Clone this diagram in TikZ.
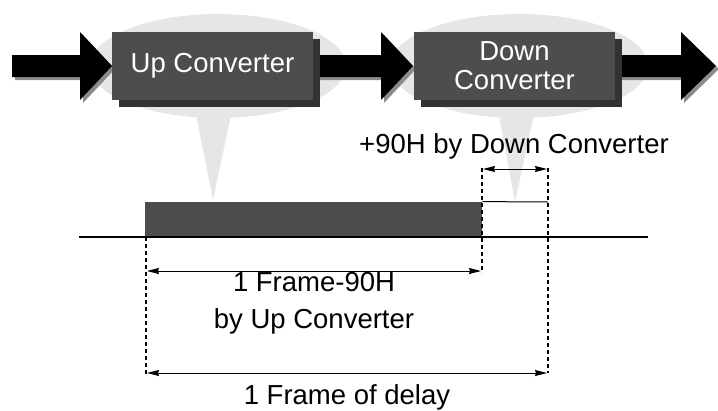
\documentclass[tikz,border=0pt]{standalone}
\usepackage{fontspec}
\setmainfont{Liberation Sans}
\usetikzlibrary{arrows.meta,shapes.geometric,shadows}

\definecolor{boxgray}{HTML}{4D4D4D}
\definecolor{boxshade}{HTML}{333333}
\definecolor{halogray}{HTML}{E6E6E6}
\definecolor{arrowshade}{HTML}{8C8C8C}

\tikzset{
  halo/.style={ellipse, fill=halogray, draw=none, inner sep=0pt},
  convbox/.style={rectangle, fill=boxgray, draw=none, text=white, align=center,
    minimum width=201pt, minimum height=68pt, inner sep=0pt,
    font=\fontsize{27.5}{29}\selectfont,
    drop shadow={shadow xshift=7pt, shadow yshift=-7pt, fill=boxshade, opacity=1}},
  label/.style={align=center, inner sep=0pt, font=\fontsize{27.5}{37}\selectfont},
  dimline/.style={line width=1pt, {Stealth[length=12pt,width=6pt,inset=1pt]}-{Stealth[length=12pt,width=6pt,inset=1pt]}},
  guide/.style={line width=1.8pt, dash pattern=on 4pt off 3pt},
}

\begin{document}
\begin{tikzpicture}[x=1pt,y=-1pt]
\useasboundingbox (0,0) rectangle (718,410);

% light halos with their pointers
\node[halo, minimum width=256pt, minimum height=104pt] (uphalo) at (218,66) {};
\node[halo, minimum width=258pt, minimum height=104pt] (downhalo) at (519,66) {};
\fill[halogray] (195,110) -- (213,200) -- (232,110) -- cycle;
\fill[halogray] (498,110) -- (515,202) -- (535,110) -- cycle;

% block arrows (shadow first, then black body)
\foreach \xa/\xb/\xt in {12/80/112, 300/381/413, 600/681/716} {
  \fill[arrowshade, shift={(3,3)}] (\xa,55) -- (\xb,55) -- (\xb,32) -- (\xt,66)
    -- (\xb,100) -- (\xb,77) -- (\xa,77) -- cycle;
  \fill[black] (\xa,55) -- (\xb,55) -- (\xb,32) -- (\xt,66)
    -- (\xb,100) -- (\xb,77) -- (\xa,77) -- cycle;
}

% converter boxes
\node[convbox] (up) at (212.5,66) {Up Converter};
\node[convbox] (down) at (514.5,66) {Down\\Converter};

% timeline
\coordinate (t0) at (79,237);
\coordinate (t1) at (648,237);
\node[fill=boxgray, minimum width=337pt, minimum height=35pt, inner sep=0pt,
  anchor=south west] (bar) at (145,237) {};
\coordinate (extra) at (548,202);
\draw[line width=1pt] (bar.north east) -- (extra);
\draw[line width=1.8pt] (t0) -- (t1);

% guide lines
\coordinate (ga) at (146,237);
\coordinate (gaend) at (146,375);
\coordinate (gb) at (482,168);
\coordinate (gbend) at (482,273);
\coordinate (gc) at (548,168);
\coordinate (gcend) at (548,373);
\draw[guide] (ga) -- (gaend);
\draw[guide] (gb) -- (gbend);
\draw[guide] (gc) -- (gcend);

% dimension arrows
\coordinate (d1a) at (147,271);
\coordinate (d1b) at (481,271);
\coordinate (d2a) at (147,373);
\coordinate (d2b) at (547,373);
\coordinate (d3a) at (483,169);
\coordinate (d3b) at (547,169);
\draw[dimline] (d1a) -- (d1b);
\draw[dimline] (d2a) -- (d2b);
\draw[dimline] (d3a) -- (d3b);

% labels
\node[label] (lbldown) at (514,146) {+90H by Down Converter};
\node[label] (lblup) at (314,303) {1 Frame-90H\\by Up Converter};
\node[label] (lbltotal) at (347,397) {1 Frame of delay};
\end{tikzpicture}
\end{document}
